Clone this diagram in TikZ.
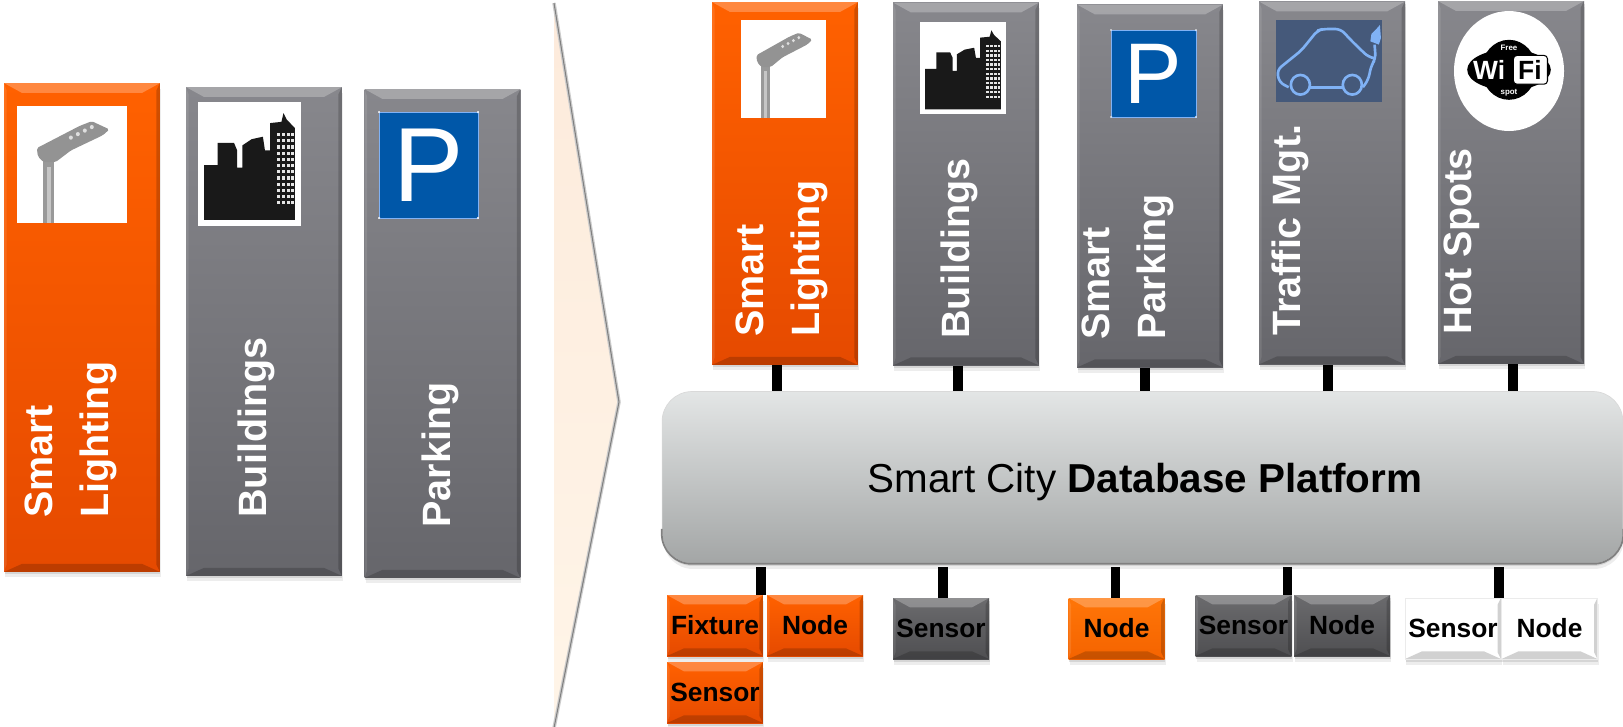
\documentclass[tikz,border=0pt]{standalone}
\usepackage{fontspec}
\setmainfont{Liberation Sans}
\usepackage{tikz}
\usetikzlibrary{calc, shadows}
\definecolor{orangetop}{rgb}{1.0, 0.38, 0.0}
\definecolor{orangebot}{rgb}{0.90, 0.29, 0.0}
\definecolor{brighttop}{rgb}{1.0, 0.46, 0.03}
\definecolor{brightbot}{rgb}{0.96, 0.39, 0.0}
\definecolor{greytop}{rgb}{0.53, 0.53, 0.55}
\definecolor{greybot}{rgb}{0.40, 0.40, 0.42}
\definecolor{darktop}{rgb}{0.42, 0.42, 0.43}
\definecolor{darkbot}{rgb}{0.31, 0.31, 0.32}
\definecolor{platetop}{rgb}{0.89, 0.90, 0.90}
\definecolor{platebot}{rgb}{0.64, 0.65, 0.65}
\definecolor{signblue}{rgb}{0.0, 0.34, 0.66}
\definecolor{carback}{rgb}{0.27, 0.35, 0.48}
\definecolor{carline}{rgb}{0.50, 0.70, 0.96}
\definecolor{peachtop}{rgb}{0.99, 0.92, 0.86}
\definecolor{peachbot}{rgb}{1.0, 0.96, 0.91}

\tikzset{
    bevel/.style={path picture={
        \coordinate (nw) at (path picture bounding box.north west);
        \coordinate (ne) at (path picture bounding box.north east);
        \coordinate (sw) at (path picture bounding box.south west);
        \coordinate (se) at (path picture bounding box.south east);
        \fill[white, opacity=.25] (nw) -- (ne) -- ([xshift=-#1, yshift=-.55*#1]ne) -- ([xshift=#1, yshift=-.55*#1]nw) -- cycle;
        \fill[black, opacity=.18] (sw) -- (se) -- ([xshift=-#1, yshift=.45*#1]se) -- ([xshift=#1, yshift=.45*#1]sw) -- cycle;
        \fill[black, opacity=.18] (ne) -- (se) -- ([xshift=-.07cm, yshift=.4*#1]se) -- ([xshift=-.07cm, yshift=-.4*#1]ne) -- cycle;
        \fill[white, opacity=.10] (nw) -- (sw) -- ([xshift=.05cm, yshift=.4*#1]sw) -- ([xshift=.05cm, yshift=-.4*#1]nw) -- cycle;
    }},
    softshadow/.style={
        drop shadow={shadow xshift=0.01cm, shadow yshift=-0.05cm, opacity=.22},
        drop shadow={shadow xshift=0.02cm, shadow yshift=-0.11cm, opacity=.14},
    },
    % icons are drawn in a 100 x 100 square, origin top left
    lamppost/.pic={
        \fill[white] (0,0) rectangle (100,100);
        \fill[gray!80] (24,46) rectangle (34,100);
        \fill[gray!45] (27,52) rectangle (31,100);
        \fill[gray!85, rounded corners=1pt] (18,36) -- (57,17) -- (68,13) -- (84,20) -- (78,25) -- (49,38) -- (35,48) -- (24,48) -- (19,43) -- cycle;
        \foreach \i in {0,1,2,3}
            \fill[white!75!gray] ($(49,27)!\i/3!(68,18)$) circle (1.8);
    },
    skyline/.pic={
        \fill[white] (0,0) rectangle (100,100);
        \fill[black!90] (6,95) -- (6,51) -- (19,51) -- (19,33) -- (35,33) -- (38,39) -- (38,53) -- (43,53) -- (43,35) -- (52,30) -- (63,28) -- (65,39) -- (70,39) -- (70,17) -- (81,16) -- (83,9) -- (86,14) -- (94,21) -- (94,95) -- cycle;
        \foreach \r in {25,30,...,80}
            \foreach \c in {77,81.5,86,90.5}
                \fill[white!80!gray] (\c,\r) rectangle +(3,2.6);
    },
    parkingsign/.pic={
        \fill[signblue, rounded corners=1pt] (0,0) rectangle (100,100);
        \draw[carline, line width=.3pt] (0,0) rectangle (100,100);
        \foreach \c/\r in {0/0,100/0,0/100,100/100}
            \fill[white] (\c,\r) circle (1);
        \node (-letter) [text=white, font=\fontsize{#1}{#1}\selectfont] at (50,50) {P};
    },
    evcar/.pic={
        \fill[carback] (0,0) rectangle (100,100);
        \draw[carline, line width=1.5pt, line join=round, rounded corners=3pt] (12,82) -- (3,76) -- (1,61) -- (24,37) -- (39,13) -- (44,11) -- (61,11) -- (71,25) -- (87,45) -- (94,47);
        \draw[carline, line width=1.5pt] (32,82) -- (62,82);
        \draw[carline, line width=1.5pt, rounded corners=3pt] (82,82) -- (87,73) -- (90,55) -- (94,47) -- (93,30);
        \draw[carline, line width=1.5pt] (23,79) ellipse (9 and 12);
        \draw[carline, line width=1.5pt] (72,79) ellipse (9 and 12);
        \fill[carline] (89,26) -- (90,17) -- (94,12) -- (98,6) -- (99,22) -- (97,30) -- cycle;
    },
    wifilogo/.pic={
        \fill[white] (50,50) ellipse (50 and 50);
        \fill[black] (50,49) ellipse (38 and 17);
        \fill[black] (50,49) ellipse (25 and 25);
        \fill[white, draw=black, line width=.6pt, rounded corners=2pt] (54,37) rectangle (85,61);
        \node (-wi) [text=white, inner sep=0, font=\fontsize{15}{15}\bfseries\selectfont] at (32,49) {Wi};
        \node (-fi) [text=black, inner sep=0, font=\fontsize{15}{15}\bfseries\selectfont] at (69,49) {Fi};
        \node (-free) [text=white, inner sep=0, font=\fontsize{4.5}{5}\bfseries\selectfont] at (50,31) {Free};
        \node (-spot) [text=white, inner sep=0, font=\fontsize{4.5}{5}\bfseries\selectfont] at (50,68) {spot};
    }
}
\tikzstyle{widebox} = [
    rectangle,
    minimum width = 3.12cm,
    minimum height = 9.78cm,
    inner sep = 0,
    bevel = 0.36cm,
    softshadow,
]
\tikzstyle{tallbox} = [
    rectangle,
    minimum width = 2.92cm,
    minimum height = 7.26cm,
    inner sep = 0,
    bevel = 0.36cm,
    softshadow,
]
\tikzstyle{smallbox} = [
    rectangle,
    minimum width = 1.92cm,
    minimum height = 1.22cm,
    inner sep = 0,
    text = black,
    font = \fontsize{15}{18}\bfseries\selectfont,
    bevel = 0.34cm,
    softshadow,
]
\tikzstyle{orangefill} = [top color = orangetop, bottom color = orangebot]
\tikzstyle{greyfill} = [top color = greytop, bottom color = greybot]
\tikzstyle{brightfill} = [top color = brighttop, bottom color = brightbot]
\tikzstyle{darkfill} = [top color = darktop, bottom color = darkbot]
\tikzstyle{whitefill} = [fill = white, draw = black!8]
\tikzstyle{boxtext} = [
    rotate = 90,
    anchor = west,
    inner sep = 0,
    align = left,
    text = white,
    font = \fontsize{22.5}{32}\bfseries\selectfont,
]
\tikzstyle{link} = [line width = 0.19cm, black]

\begin{document}
\begin{tikzpicture}[x=0.02cm, y=-0.02cm]
        \useasboundingbox (0,0) rectangle (1623,726.5);

        %% Big arrow
        \coordinate (arrowtop) at (554,3);
        \coordinate (arrowtip) at (619,402);
        \coordinate (arrowbot) at (554,728);
        \fill[top color=peachtop, bottom color=peachbot] (arrowtop) -- (arrowtip) -- (arrowbot) -- cycle;
        \draw[black!20, line width=2pt] (arrowtop) -- (arrowtip) -- (arrowbot);
        \draw[black!50, line width=0.6pt] (arrowtop) -- (arrowtip) -- (arrowbot);

        %% Left columns
        \node (leftlight) [widebox, orangefill] at (82,327.5) {};
        \node (leftbuild) [widebox, greyfill] at (264,331.5) {};
        \node (leftpark) [widebox, greyfill] at (442.5,333.5) {};
        \node (leftlighttext) [boxtext] at (70.5,518) {Smart\\Lighting};
        \node (leftbuildtext) [boxtext] at (256,518) {Buildings};
        \node (leftparktext) [boxtext] at (440.5,528) {Parking};
        \pic (leftlamp) [xscale=1.10, yscale=1.17] at (17,106) {lamppost};
        \pic (leftcity) [xscale=1.03, yscale=1.24] at (198,102) {skyline};
        \pic (leftsign) [xscale=0.99, yscale=1.06] at (379,112) {parkingsign=60};

        %% Top columns
        \node (toplight) [tallbox, orangefill] at (785,183.5) {};
        \node (topbuild) [tallbox, greyfill] at (966,184) {};
        \node (toppark) [tallbox, greyfill] at (1150,186) {};
        \node (toptraffic) [tallbox, greyfill] at (1332,183) {};
        \node (tophot) [tallbox, greyfill] at (1511,182.5) {};
        \node (toplighttext) [boxtext] at (782,337) {Smart\\Lighting};
        \node (topbuildtext) [boxtext] at (959.5,339) {Buildings};
        \node (topparktext) [boxtext] at (1128,340) {Smart\\Parking};
        \node (toptraffictext) [boxtext] at (1290.5,336) {Traffic Mgt.};
        \node (tophottext) [boxtext] at (1462,335) {Hot Spots};
        \pic (toplamp) [xscale=0.85, yscale=0.98] at (741,20) {lamppost};
        \pic (topcity) [xscale=0.86, yscale=0.92] at (920,22) {skyline};
        \pic (topsign) [xscale=0.85, yscale=0.87] at (1111,30) {parkingsign=49};
        \pic (topcar) [xscale=1.06, yscale=0.82] at (1276,20) {evcar};
        \pic (topwifi) [xscale=1.10, yscale=1.20] at (1454,11) {wifilogo};

        %% Platform
        \node (platform) [rectangle, rounded corners=0.6cm, minimum width=19.22cm, minimum height=3.44cm, inner sep=0,
            top color=platetop, bottom color=platebot, draw=black!15, text height=0.78cm, font=\fontsize{23}{28}\selectfont, softshadow]
            at (1142.5,477.5) {\hspace*{0.1cm}Smart City \textbf{Database Platform}};
        \draw[black!50, line width=1pt, rounded corners=0.6cm] ([yshift=0.7cm]platform.south west) -- (platform.south west) -- (platform.south east) -- ([yshift=0.7cm]platform.south east);

        %% Bottom boxes
        \node (fixture) [smallbox, orangefill] at (715,625.5) {Fixture};
        \node (fixnode) [smallbox, orangefill] at (815,625.5) {Node};
        \node (fixsensor) [smallbox, orangefill] at (715,692.5) {Sensor};
        \node (buildsensor) [smallbox, darkfill] at (941,628.5) {Sensor};
        \node (parknode) [smallbox, brightfill] at (1116.5,628.5) {Node};
        \node (trafsensor) [smallbox, darkfill] at (1243.5,625.5) {Sensor};
        \node (trafnode) [smallbox, darkfill] at (1342,625.5) {Node};
        \node (hotsensor) [smallbox, whitefill] at (1453,628.5) {Sensor};
        \node (hotnode) [smallbox, whitefill] at (1549.5,628.5) {Node};

        %% Connectors
        \draw[link] ([xshift=-0.16cm]toplight.south) -- ([xshift=-0.16cm]toplight.south |- platform.north);
        \draw[link] ([xshift=-0.16cm]topbuild.south) -- ([xshift=-0.16cm]topbuild.south |- platform.north);
        \draw[link] ([xshift=-0.1cm]toppark.south) -- ([xshift=-0.1cm]toppark.south |- platform.north);
        \draw[link] ([xshift=-0.08cm]toptraffic.south) -- ([xshift=-0.08cm]toptraffic.south |- platform.north);
        \draw[link] ([xshift=0.04cm]tophot.south) -- ([xshift=0.04cm]tophot.south |- platform.north);
        \draw[link] ([xshift=0.92cm, yshift=-0.06cm]fixture.north |- platform.south) -- ([xshift=0.92cm]fixture.north);
        \draw[link] ([xshift=0.04cm, yshift=-0.06cm]buildsensor.north |- platform.south) -- ([xshift=0.04cm]buildsensor.north);
        \draw[link] ([xshift=-0.02cm, yshift=-0.06cm]parknode.north |- platform.south) -- ([xshift=-0.02cm]parknode.north);
        \draw[link] ([xshift=0.88cm, yshift=-0.06cm]trafsensor.north |- platform.south) -- ([xshift=0.88cm]trafsensor.north);
        \draw[link] ([xshift=0.92cm, yshift=-0.06cm]hotsensor.north |- platform.south) -- ([xshift=0.92cm]hotsensor.north);

\end{tikzpicture}
\end{document}
